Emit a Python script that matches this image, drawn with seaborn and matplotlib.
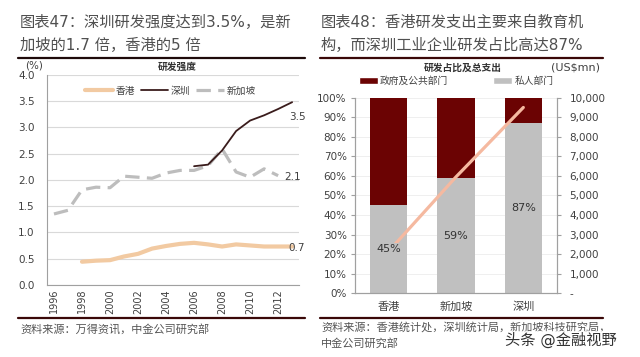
import numpy as np
import pandas as pd
import matplotlib
matplotlib.use("Agg")
import matplotlib.pyplot as plt
import seaborn as sns
from matplotlib.patches import Patch
from matplotlib.lines import Line2D
from matplotlib.ticker import FixedLocator, NullFormatter

# ---------------- data ----------------
sg_years = list(range(1996, 2013))
sg_values = [1.35, 1.42, 1.81, 1.86, 1.85, 2.07, 2.05, 2.03, 2.13, 2.18, 2.18, 2.27, 2.59, 2.15, 2.05, 2.21, 2.08]
sz_years = list(range(2006, 2014))
sz_values = [2.26, 2.29, 2.56, 2.93, 3.13, 3.23, 3.35, 3.48]
hk_years = list(range(1998, 2014))
hk_values = [0.44, 0.46, 0.47, 0.54, 0.59, 0.69, 0.74, 0.78, 0.80, 0.77, 0.73, 0.77, 0.75, 0.73, 0.73, 0.73]
year_labels = list(range(1996, 2013, 2))

cities = ["香港", "新加坡", "深圳"]
private_share = [45, 59, 87]
public_share = [55, 41, 13]
total_spend = [2150, 5950, 9500]

# ---------------- style ----------------
sns.set_style("white")
plt.rcParams["font.family"] = ["DejaVu Sans", "Noto Sans CJK SC"]
plt.rcParams["axes.unicode_minus"] = False

txt = "#404040"
fig = plt.figure(figsize=(6.4, 3.57), dpi=100)

# ================= left chart =================
axL = fig.add_axes([0.0734, 0.2022, 0.394, 0.588])
df_hk = pd.DataFrame({"年份": hk_years, "值": hk_values})
df_sz = pd.DataFrame({"年份": sz_years, "值": sz_values})
df_sg = pd.DataFrame({"年份": sg_years, "值": sg_values})
sns.lineplot(data=df_sg, x="年份", y="值", ax=axL, color="#bdbdbd", lw=2.3, label="新加坡")
axL.lines[-1].set_dashes([4.5, 2.3])
sns.lineplot(data=df_hk, x="年份", y="值", ax=axL, color="#f2caa2", lw=3.0, label="香港")
sns.lineplot(data=df_sz, x="年份", y="值", ax=axL, color="#3a1c1c", lw=1.3, label="深圳")

axL.set_xlim(1995.5, 2013.5)
axL.set_ylim(0, 4)
axL.set_yticks(np.arange(0, 4.01, 0.5))
axL.set_yticklabels([f"{v:.1f}" for v in np.arange(0, 4.01, 0.5)], fontsize=7.5, color=txt)
axL.yaxis.grid(True, color="#d9d9d9", lw=0.8)
axL.set_axisbelow(True)
axL.xaxis.set_major_locator(FixedLocator(np.arange(1995.5, 2014, 2)))
axL.xaxis.set_major_formatter(NullFormatter())
axL.xaxis.set_minor_locator(FixedLocator(year_labels))
axL.set_xticklabels([str(y) for y in year_labels], minor=True, rotation=90, fontsize=7, color=txt)
axL.tick_params(axis="x", which="major", length=4, color="#a0a0a0", direction="out")
axL.tick_params(axis="x", which="minor", length=0, pad=3)
axL.tick_params(axis="y", length=0, pad=9)
axL.set_xlabel("")
axL.set_ylabel("")
for s in ["top", "right"]:
    axL.spines[s].set_visible(False)
for s in ["left", "bottom"]:
    axL.spines[s].set_color("#a0a0a0")
    axL.spines[s].set_linewidth(0.8)

h, l = axL.get_legend_handles_labels()
order = [l.index("香港"), l.index("深圳"), l.index("新加坡")]
axL.legend([h[i] for i in order], [l[i] for i in order], loc="center",
           bbox_to_anchor=(0.49, 0.924), ncol=3, frameon=False, fontsize=7,
           handlelength=2.8, columnspacing=0.6, handletextpad=0.3,
           labelcolor=txt)

axL.text(2013.35, 3.2, "3.5", ha="center", va="center", fontsize=7.5, color=txt)
axL.text(2013.0, 2.05, "2.1", ha="center", va="center", fontsize=7.5, color=txt)
axL.text(2013.3, 0.70, "0.7", ha="center", va="center", fontsize=7.5, color=txt)
axL.text(-0.05, 1.02, "(%)", transform=axL.transAxes, ha="center", va="bottom",
         fontsize=7.5, color=txt)
fig.text(177 / 640, 1 - 67 / 357, "研发强度", ha="center", va="center",
         fontsize=7, color="#333333", fontweight="bold")

# ================= right chart =================
axR = fig.add_axes([0.5547, 0.1784, 0.3156, 0.548])
dark = "#6b0303"
grey = "#c0c0c0"
totals_pct = [p + g for p, g in zip(private_share, public_share)]
sns.barplot(x=cities, y=totals_pct, color=dark, saturation=1, width=0.55, ax=axR,
            linewidth=0, edgecolor="none")
sns.barplot(x=cities, y=private_share, color=grey, saturation=1, width=0.55, ax=axR,
            linewidth=0, edgecolor="none")
axR.set_xlim(-0.5, 2.5)
axR.set_ylim(0, 100)
axR.set_yticks(np.arange(0, 101, 10))
axR.set_yticklabels([f"{v}%" for v in range(0, 101, 10)], fontsize=7.5, color=txt)
axR.yaxis.grid(True, color="#efefef", lw=0.7)
axR.set_axisbelow(True)
axR.xaxis.set_major_locator(FixedLocator([-0.5, 0.5, 1.5, 2.5]))
axR.xaxis.set_major_formatter(NullFormatter())
axR.xaxis.set_minor_locator(FixedLocator(range(len(cities))))
axR.set_xticklabels(cities, minor=True, fontsize=8, color=txt)
axR.tick_params(axis="x", which="major", length=4, color="#a0a0a0")
axR.tick_params(axis="x", which="minor", length=0, pad=6)
axR.tick_params(axis="y", length=3, color="#a0a0a0", pad=3)
axR.set_xlabel("")
axR.set_ylabel("")
axR.spines["top"].set_visible(False)
for s in ["left", "bottom", "right"]:
    axR.spines[s].set_color("#a0a0a0")
    axR.spines[s].set_linewidth(0.8)

ax2 = axR.twinx()
sns.lineplot(x=np.arange(len(cities)), y=total_spend, ax=ax2, color="#f5b9a0", lw=2.3)
ax2.set_ylim(0, 10000)
ax2.set_yticks(np.arange(0, 10001, 1000))
ax2.set_yticklabels(["-"] + [f"{v:,}" for v in range(1000, 10001, 1000)], fontsize=7.5, color=txt)
ax2.tick_params(axis="y", length=3, color="#a0a0a0", pad=6)
ax2.set_ylabel("")
ax2.spines["top"].set_visible(False)
for s in ["left", "bottom", "right"]:
    ax2.spines[s].set_color("#a0a0a0")
    ax2.spines[s].set_linewidth(0.8)

for i, p in enumerate(private_share):
    ax2.text(i, p / 2, f"{p}%", transform=axR.transData, ha="center", va="center",
             fontsize=8, color="#333333", zorder=5,
             bbox=dict(facecolor=grey, edgecolor="none", pad=1.0))

axR.legend([Patch(facecolor=dark), Patch(facecolor=grey)], ["政府及公共部门", "私人部门"],
           loc="center", bbox_to_anchor=(0.5, 1.085), ncol=2, frameon=False,
           fontsize=7, handlelength=2.0, handleheight=0.8, columnspacing=4.6,
           handletextpad=0.2, labelcolor=txt)
fig.text(463 / 640, 1 - 68 / 357, "研发占比及总支出", ha="center", va="center",
         fontsize=7, color="#333333", fontweight="bold")
fig.text(575 / 640, 1 - 68 / 357, "(US$mn)", ha="center", va="center",
         fontsize=8, color=txt)

# ================= titles, rules, sources =================
tcol = "#505050"
fig.text(20 / 640, 1 - 22 / 357, "图表47：深圳研发强度达到3.5%，是新", ha="left", va="center",
         fontsize=11, color=tcol)
fig.text(20 / 640, 1 - 45 / 357, "加坡的1.7 倍，香港的5 倍", ha="left", va="center",
         fontsize=11, color=tcol)
fig.text(321 / 640, 1 - 22 / 357, "图表48：香港研发支出主要来自教育机", ha="left", va="center",
         fontsize=11, color=tcol)
fig.text(321 / 640, 1 - 45 / 357, "构，而深圳工业企业研发占比高达87%", ha="left", va="center",
         fontsize=11, color=tcol)

for x0, x1, c in [(18, 305, "#1e0a0a"), (320, 603, "#3a0808")]:
    fig.add_artist(Line2D([x0 / 640, x1 / 640], [1 - 58 / 357] * 2, color=c, lw=1.6))
    fig.add_artist(Line2D([x0 / 640, x1 / 640], [1 - 318 / 357] * 2, color="#3a0808", lw=1.6))

scol = "#555555"
fig.text(20 / 640, 1 - 329 / 357, "资料来源：万得资讯，中金公司研究部", ha="left", va="center",
         fontsize=8, color=scol)
fig.text(321 / 640, 1 - 327 / 357, "资料来源：香港统计处，深圳统计局，新加坡科技研究局，", ha="left",
         va="center", fontsize=8, color=scol)
fig.text(321 / 640, 1 - 343 / 357, "中金公司研究部", ha="left", va="center",
         fontsize=8, color=scol)
fig.text(561 / 640, 1 - 340 / 357, "头条 @金融视野", ha="center", va="center",
         fontsize=11, color="#333333",
         bbox=dict(facecolor="white", edgecolor="none", pad=1.0, alpha=0.8))

fig.savefig("out.png", dpi=100)
